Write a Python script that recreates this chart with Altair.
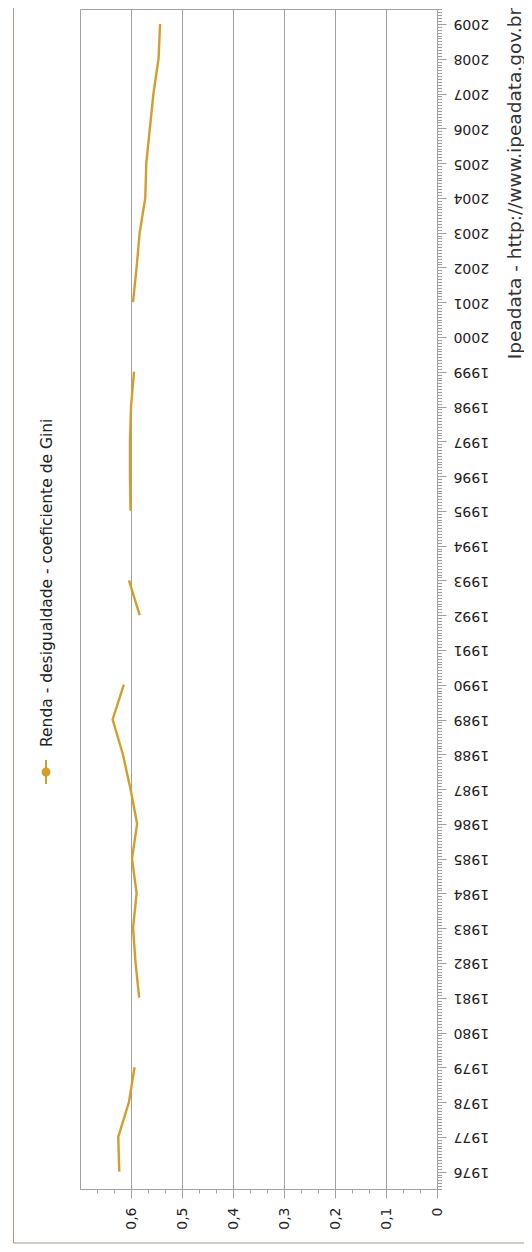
import altair as alt
import pandas as pd

# Data (Renda - desigualdade - coeficiente de Gini)
years = [1976, 1977, 1978, 1979, 1981, 1982, 1983, 1984, 1985, 1986, 1987, 1988,
         1989, 1990, 1992, 1993, 1995, 1996, 1997, 1998, 1999, 2001, 2002, 2003,
         2004, 2005, 2006, 2007, 2008, 2009]
gini = [0.623, 0.625, 0.604, 0.593, 0.584, 0.591, 0.596, 0.589, 0.598, 0.588, 0.601, 0.616,
        0.636, 0.614, 0.583, 0.604, 0.601, 0.602, 0.602, 0.600, 0.594, 0.596, 0.589, 0.583,
        0.572, 0.570, 0.563, 0.556, 0.546, 0.543]
legend_label = ["Renda - desigualdade - coeficiente de Gini"]
source_label = ["Ipeadata - http://www.ipeadata.gov.br"]

# break the line where a year is missing
segs = []
s = 0
for i, y in enumerate(years):
    if i > 0 and y - years[i - 1] > 1:
        s += 1
    segs.append(s)

df = pd.DataFrame({"ano": years, "gini": gini, "seg": segs})

W, H = 357, 1180
GOLD = "#D39E2B"
GRID = "#A0A0A0"
FONT = "DejaVu Sans"

x_ticks = [round(k / 30, 6) for k in range(21)]
y_ticks = [1975 + m / 12 for m in range(6, 34 * 12 + 6)]

major_x = "abs(datum.value*10 - round(datum.value*10)) < 0.001"
major_y = "abs(datum.value - round(datum.value)) < 0.001"

x_enc = alt.X(
    "gini:Q",
    scale=alt.Scale(domain=[0, 0.7], reverse=True, nice=False, zero=False),
    axis=alt.Axis(
        values=x_ticks, title=None, grid=True, gridColor=GRID,
        gridOpacity={"condition": {"test": major_x, "value": 1}, "value": 0},
        tickSize={"condition": {"test": major_x, "value": 9}, "value": 4},
        tickColor=GRID, domainColor=GRID,
        labelExpr=major_x + " ? (datum.value == 0 ? '0' : replace(format(datum.value, '.1f'), '.', ',')) : ''",
        labelAngle=270, labelAlign="right", labelBaseline="middle", labelPadding=9,
        labelFont=FONT, labelFontSize=14, labelColor="#222222",
        labelOverlap=False, labelBound=False, labelFlush=False,
    ),
)
y_enc = alt.Y(
    "ano:Q",
    scale=alt.Scale(domain=[1975.5, 2009.43], nice=False, zero=False),
    axis=alt.Axis(
        orient="right", values=y_ticks, title=None, grid=False,
        tickSize={"condition": {"test": major_y, "value": 9}, "value": 4.5},
        tickColor=GRID, domainColor=GRID,
        labelExpr=major_y + " ? format(datum.value, 'd') : ''",
        labelAngle=180, labelAlign="right", labelBaseline="middle", labelPadding=7,
        labelFont=FONT, labelFontSize=14, labelColor="#222222",
        labelOverlap=False, labelBound=False, labelFlush=False,
    ),
)

line = alt.Chart(df).mark_line(color=GOLD, strokeWidth=2.4).encode(
    x=x_enc, y=y_enc, detail="seg:N", order="ano:Q"
)

one = pd.DataFrame({"a": [0]})

legend_text = alt.Chart(pd.DataFrame({"t": legend_label})).mark_text(
    angle=270, align="left", baseline="middle", font=FONT, fontSize=15.5, color="#222222"
).encode(text="t:N", x=alt.value(-33), y=alt.value(738))

legend_rule = alt.Chart(one).mark_rule(color=GOLD, strokeWidth=2).encode(
    x=alt.value(-34), y=alt.value(751), y2=alt.value(775)
)
legend_dot = alt.Chart(one).mark_point(
    shape="circle", filled=True, color=GOLD, size=80, opacity=1
).encode(x=alt.value(-34), y=alt.value(763))

source_text = alt.Chart(pd.DataFrame({"t": source_label})).mark_text(
    angle=270, align="right", baseline="middle", font=FONT, fontSize=18.5, color="#333333"
).encode(text="t:N", x=alt.value(434.5), y=alt.value(-1))

border_left = alt.Chart(one).mark_rule(color="#A89A8C", strokeWidth=1).encode(
    x=alt.value(-66.5), y=alt.value(-10), y2=alt.value(1234)
)
border_bottom = alt.Chart(one).mark_rule(color="#A89A8C", strokeWidth=1).encode(
    x=alt.value(-66.5), x2=alt.value(450), y=alt.value(1234)
)

chart = alt.layer(
    border_left, border_bottom, line, legend_rule, legend_dot, legend_text, source_text
).properties(
    width=W, height=H,
    autosize=alt.AutoSizeParams(type="none"),
    padding={"left": 72, "top": 1, "right": 87, "bottom": 55},
    background="white",
).configure_view(stroke=GRID, strokeWidth=1)

chart.save("out.html", embed_options={"renderer": "svg", "actions": False})
